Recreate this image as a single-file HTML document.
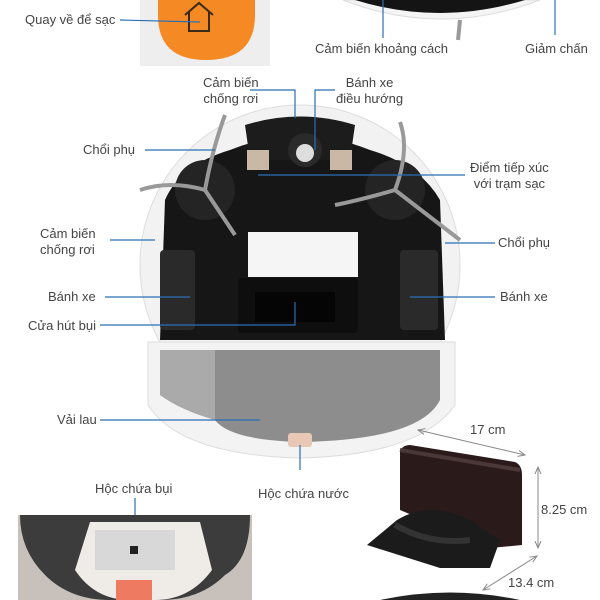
<!DOCTYPE html>
<html><head><meta charset="utf-8"><style>
body{margin:0;width:600px;height:600px;background:#fff;position:relative;overflow:hidden;font-family:"Liberation Sans",Arial,sans-serif;}
.t{position:absolute;font-size:13px;color:#444;white-space:nowrap;line-height:16px}
.c{text-align:center}
</style></head><body>
<svg width="600" height="600" style="position:absolute;left:0;top:0">
<defs><marker id="a" markerWidth="8" markerHeight="8" refX="7" refY="4" orient="auto-start-reverse"><path d="M0 1 L7 4 L0 7" fill="none" stroke="#888"/></marker></defs>
<!-- top-left button panel -->
<rect x="140" y="0" width="130" height="66" fill="#efeeee"/>
<path d="M158 0 H255 V15 Q255 60 206 60 Q158 60 158 15 Z" fill="#f58a24"/>
<path d="M185 15 L199 3 L213 15 M189 12 V31 H209 V12" fill="none" stroke="#3a2a1a" stroke-width="2"/>
<!-- top-right robot -->
<path d="M343 0 Q440 38 540 0 Z" fill="#f4f4f4" stroke="#ddd"/>
<path d="M355 0 Q440 26 525 0 Z" fill="#141414"/>
<path d="M460 20 L458 40" stroke="#999" stroke-width="4"/>
<!-- main robot shell -->
<circle cx="300" cy="265" r="160" fill="#f2f2f2" stroke="#ddd"/>
<path d="M165 200 Q180 165 230 150 Q300 122 370 150 Q420 165 440 200 L445 340 H160 Z" fill="#161616"/>
<path d="M245 125 Q300 108 355 125 L350 160 H250 Z" fill="#1c1c1c"/>
<rect x="247" y="150" width="22" height="20" fill="#c9b8a5"/>
<rect x="330" y="150" width="22" height="20" fill="#c9b8a5"/>
<circle cx="305" cy="150" r="17" fill="#2a2a2a"/>
<circle cx="305" cy="153" r="9" fill="#ddd"/>
<circle cx="205" cy="190" r="30" fill="#242424"/>
<circle cx="395" cy="190" r="30" fill="#242424"/>
<rect x="160" y="250" width="35" height="80" rx="4" fill="#2a2a2a"/>
<rect x="400" y="250" width="38" height="80" rx="4" fill="#2a2a2a"/>
<rect x="248" y="232" width="110" height="45" fill="#f5f5f5"/>
<rect x="238" y="278" width="120" height="55" rx="4" fill="#0e0e0e"/>
<rect x="255" y="292" width="80" height="30" fill="#050505"/>
<g stroke="#999" stroke-width="4" fill="none">
<path d="M205 190 Q212 150 225 115"/><path d="M205 190 Q170 180 140 190"/><path d="M205 190 L235 235"/>
<path d="M395 190 Q410 150 400 122"/><path d="M395 190 L460 240"/><path d="M395 190 Q360 200 335 205"/>
</g>
<!-- mop -->
<path d="M148 342 H455 V405 Q420 455 300 458 Q180 455 148 405 Z" fill="#f3f3f3" stroke="#ddd"/>
<path d="M215 350 H440 V400 Q420 440 300 442 Q230 440 215 420 Z" fill="#8d8d8d"/>
<path d="M160 350 H215 V420 Q180 410 160 395 Z" fill="#aaa"/>
<rect x="288" y="433" width="24" height="14" rx="3" fill="#e8c8b4"/>
<!-- leader lines -->
<g stroke="#2a6fb5" stroke-width="1.2" fill="none">
<line x1="120" y1="20" x2="200" y2="22"/>
<path d="M250 90 H295 V118"/>
<path d="M335 90 H315 V150"/>
<line x1="145" y1="150" x2="215" y2="150"/>
<path d="M258 175 H465"/>
<line x1="110" y1="240" x2="155" y2="240"/>
<line x1="445" y1="243" x2="495" y2="243"/>
<line x1="105" y1="297" x2="190" y2="297"/>
<line x1="410" y1="297" x2="495" y2="297"/>
<path d="M100 325 H295 V302"/>
<line x1="100" y1="420" x2="260" y2="420"/>
<line x1="300" y1="445" x2="300" y2="470"/>
<line x1="135" y1="498" x2="135" y2="545"/>
<line x1="383" y1="0" x2="383" y2="38"/>
<line x1="555" y1="0" x2="555" y2="35"/>
</g>
<!-- dock dims -->
<g stroke="#888" stroke-width="1" fill="none">
<line x1="418" y1="430" x2="525" y2="455" marker-start="url(#a)" marker-end="url(#a)"/>
<line x1="538" y1="467" x2="538" y2="548" marker-start="url(#a)" marker-end="url(#a)"/>
<line x1="483" y1="590" x2="537" y2="556" marker-start="url(#a)" marker-end="url(#a)"/>
</g>
<!-- dock -->
<path d="M400 452 Q402 445 410 445 L515 462 Q522 465 522 475 L522 545 L490 548 L400 510 Z" fill="#2b1a1a"/>
<path d="M400 450 L520 470" stroke="#4a3838" stroke-width="4" fill="none"/>
<path d="M367 545 L397 520 Q430 500 470 520 L500 540 L490 568 L440 568 Z" fill="#1b1b1b"/>
<path d="M395 525 Q430 545 470 540" stroke="#333" stroke-width="6" fill="none"/>
<!-- bottom-left photo -->
<rect x="18" y="515" width="234" height="85" fill="#c8c1bb"/>
<path d="M20 515 H250 Q250 560 225 575 Q200 600 160 600 H110 Q70 600 45 575 Q20 550 20 515 Z" fill="#3c3c3c"/>
<path d="M90 522 H200 L212 570 Q190 600 155 600 H130 Q95 600 75 570 Z" fill="#efece8"/>
<rect x="95" y="530" width="80" height="40" fill="#d8d8d8"/>
<rect x="130" y="546" width="8" height="8" fill="#222"/>
<rect x="116" y="580" width="36" height="20" fill="#ef7a62"/>
<!-- bottom circle -->
<path d="M380 600 Q450 585 520 600 Z" fill="#222"/>
</svg>
<div class="t" style="left:25px;top:12px">Quay về để sạc</div>
<div class="t" style="left:315px;top:41px">Cảm biến khoảng cách</div>
<div class="t" style="left:525px;top:41px">Giảm chấn</div>
<div class="t c" style="left:203px;top:75px">Cảm biến<br>chống rơi</div>
<div class="t c" style="left:336px;top:75px">Bánh xe<br>điều hướng</div>
<div class="t" style="left:83px;top:142px">Chổi phụ</div>
<div class="t c" style="left:470px;top:160px">Điểm tiếp xúc<br>với trạm sạc</div>
<div class="t" style="left:40px;top:226px">Cảm biến<br>chống rơi</div>
<div class="t" style="left:498px;top:235px">Chổi phụ</div>
<div class="t" style="left:48px;top:289px">Bánh xe</div>
<div class="t" style="left:500px;top:289px">Bánh xe</div>
<div class="t" style="left:28px;top:318px">Cửa hút bụi</div>
<div class="t" style="left:57px;top:412px">Vải lau</div>
<div class="t" style="left:470px;top:422px">17 cm</div>
<div class="t" style="left:95px;top:481px">Hộc chứa bụi</div>
<div class="t" style="left:258px;top:486px">Hộc chứa nước</div>
<div class="t" style="left:541px;top:502px">8.25 cm</div>
<div class="t" style="left:508px;top:575px">13.4 cm</div>
</body></html>
